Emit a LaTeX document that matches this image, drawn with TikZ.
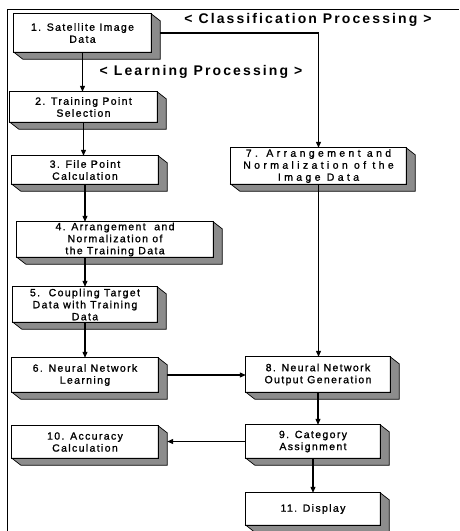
\documentclass[tikz,border=0pt]{standalone}
\usepackage{fontspec}
\setmainfont{Liberation Sans}
\newfontfamily\boxfont{Liberation Sans}[LetterSpace=13,FakeBold=1.2]
\newfontfamily\boxwidefont{Liberation Sans}[LetterSpace=32,FakeBold=1.2]
\newfontfamily\headfont{Liberation Sans}[LetterSpace=15]
\usetikzlibrary{arrows.meta,calc}
\newcommand\mkbox[7][]{%
  \node[stepbox,#1,minimum width={#5-#3},minimum height={#6-#4}] (#2) at ({(#3+#5)/2},{(#4+#6)/2}) {#7};
  \fill[depth] (#2.north east) -- ($(#2.north east)+(9,7)$) -- ($(#2.south east)+(9,7)$) -- ($(#2.south west)+(9,7)$) -- (#2.south west) -- (#2.south east) -- cycle;
  \draw[stepborder] (#2.south west) rectangle (#2.north east);
}
\begin{document}
\begin{tikzpicture}[x=1pt,y=-1pt,
  stepbox/.style={fill=white, inner sep=0pt, align=center, font=\boxfont\fontsize{10.5}{12}\selectfont},
  stepborder/.style={draw=black, line width=0.9pt},
  depth/.style={fill=black!45, draw=black, line width=0.7pt},
  conn/.style={line width=1.1pt, -{Triangle[length=6pt,width=5pt]}},
  heading/.style={font=\headfont\bfseries\fontsize{14}{16}\selectfont, inner sep=0pt},
  frameline/.style={line width=0.8pt}]
\useasboundingbox (0,0) rectangle (459,531);
\draw[frameline] (7,531) -- (7,9) -- (459,9);

\mkbox{b1}{14}{14}{151}{52}{1. Satellite Image\\Data}
\mkbox{b2}{10}{92}{157}{122}{2. Training Point\\Selection}
\mkbox{b3}{12}{156}{158}{184}{3. File Point\\Calculation}
\mkbox{b4}{17}{222}{213}{257}{4. Arrangement\ \ and\\Normalization of\\the Training Data}
\mkbox{b5}{13}{287}{157}{322}{5.\ \ Coupling Target\\Data with Training\\Data}
\mkbox{b6}{12}{358}{158}{392}{6. Neural Network\\Learning}
\mkbox{b10}{12}{426}{158}{458}{10. Accuracy\\Calculation}
\mkbox[font=\boxwidefont\fontsize{10.5}{12}\selectfont]{b7}{231}{148}{406}{184}{7. Arrangement and\\Normalization of the\\Image Data}
\mkbox{b8}{246}{357}{390}{392}{8. Neural Network\\Output Generation}
\mkbox{b9}{246}{425}{380}{458}{9. Category\\Assignment}
\mkbox{b11}{246}{493}{380}{525}{11. Display}

\node[heading] (hc) at (308,20) {< Classification Processing >};
\node[heading] (hl) at (201,72) {< Learning Processing >};

\coordinate (b1r) at ([xshift=9pt]b1.east);
\coordinate (b6r) at ([xshift=9pt]b6.east);
\coordinate (b10r) at ([xshift=9pt]b10.east);

\draw[conn] (b1.south) -- (b1.south |- b2.north);
\draw[conn] (b2.south) -- (b2.south |- b3.north);
\draw[conn] (b3.south) -- (b3.south |- b4.north);
\draw[conn] (b4.south -| b5.north) -- (b5.north);
\draw[conn] (b5.south) -- (b5.south |- b6.north);
\draw[conn] (b1r) -| (b7.north);
\draw[conn] (b7.south) -- (b7.south |- b8.north);
\draw[conn] (b6r) -- (b6r -| b8.west);
\draw[conn] (b8.south) -- (b8.south |- b9.north);
\draw[conn] (b9.west) -- (b9.west -| b10r);
\draw[conn] (b9.south) -- (b9.south |- b11.north);
\end{tikzpicture}
\end{document}
